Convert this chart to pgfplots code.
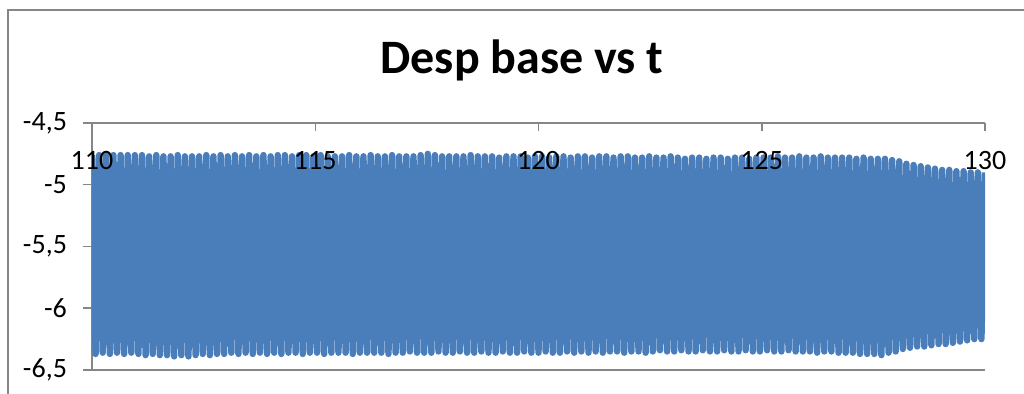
\documentclass[border=0pt]{standalone}
\usepackage{pgfplots}
\pgfplotsset{compat=1.18}
\usepackage{fontspec}
\setmainfont{Carlito}
\definecolor{excelblue}{RGB}{74,126,187}
\definecolor{axgray}{RGB}{134,134,134}
\pgfplotsset{
  commongeom/.style={
    at={(46pt,12pt)}, anchor=south west,
    scale only axis, width=446.5pt, height=123.5pt,
    xmin=110, xmax=130, ymin=-6.5, ymax=-4.5,
    /pgf/number format/assume math mode=true,
  },
}
\begin{document}
\begin{tikzpicture}
\useasboundingbox (0,0) rectangle (512pt,197pt);
\draw[axgray, line width=1pt] (4pt,0) -- (4pt,192pt) -- (512pt,192pt);
\node[anchor=base, inner sep=0pt, font=\fontsize{24}{28}\selectfont\bfseries] at (261pt,160pt) {Desp base vs t};
\begin{axis}[
  commongeom,
  axis x line*=top, axis y line*=left,
  axis line style={axgray, line width=0.75pt, -},
  xtick=\empty,
  ytick={-6.5,-6,-5.5,-5,-4.5},
  tick align=outside, major tick length=4.5pt,
  tick style={axgray, line width=0.75pt},
  ymajorgrids, grid style={axgray, line width=0.75pt},
  yticklabel style={font=\fontsize{14}{16}\selectfont, xshift=-4.5pt, /pgf/number format/.cd, use comma, fixed},
]
\addplot[excelblue, line width=3.2pt, line join=round] coordinates {
(110,-4.76) (110.08,-6.37) (110.16,-4.76) (110.24,-6.36) (110.32,-4.75) (110.4,-6.37) (110.48,-4.76) (110.56,-6.36) (110.64,-4.76) (110.72,-6.37)
(110.8,-4.76) (110.88,-6.36) (110.96,-4.76) (111.04,-6.37) (111.12,-4.76) (111.2,-6.38) (111.28,-4.77) (111.36,-6.37) (111.44,-4.76) (111.52,-6.38)
(111.6,-4.77) (111.68,-6.38) (111.76,-4.77) (111.84,-6.39) (111.92,-4.76) (112,-6.38) (112.08,-4.77) (112.16,-6.39) (112.24,-4.77) (112.32,-6.38)
(112.4,-4.77) (112.48,-6.37) (112.56,-4.76) (112.64,-6.38) (112.72,-4.77) (112.8,-6.37) (112.88,-4.76) (112.96,-6.37) (113.04,-4.77) (113.12,-6.36)
(113.2,-4.76) (113.28,-6.37) (113.36,-4.77) (113.44,-6.36) (113.52,-4.76) (113.6,-6.37) (113.68,-4.77) (113.76,-6.36) (113.84,-4.76) (113.92,-6.37)
(114,-4.77) (114.08,-6.36) (114.16,-4.76) (114.24,-6.37) (114.32,-4.76) (114.4,-6.36) (114.48,-4.77) (114.56,-6.36) (114.64,-4.76) (114.72,-6.37)
(114.8,-4.76) (114.88,-6.36) (114.96,-4.77) (115.04,-6.36) (115.12,-4.76) (115.2,-6.37) (115.28,-4.77) (115.36,-6.36) (115.44,-4.77) (115.52,-6.36)
(115.6,-4.77) (115.68,-6.36) (115.76,-4.76) (115.84,-6.37) (115.92,-4.77) (116,-6.36) (116.08,-4.77) (116.16,-6.36) (116.24,-4.76) (116.32,-6.36)
(116.4,-4.77) (116.48,-6.36) (116.56,-4.77) (116.64,-6.37) (116.72,-4.76) (116.8,-6.36) (116.88,-4.77) (116.96,-6.36) (117.04,-4.77) (117.12,-6.35)
(117.2,-4.77) (117.28,-6.36) (117.36,-4.76) (117.44,-6.36) (117.52,-4.75) (117.6,-6.36) (117.68,-4.76) (117.76,-6.35) (117.84,-4.77) (117.92,-6.36)
(118,-4.77) (118.08,-6.36) (118.16,-4.77) (118.24,-6.35) (118.32,-4.77) (118.4,-6.36) (118.48,-4.76) (118.56,-6.36) (118.64,-4.77) (118.72,-6.35)
(118.8,-4.77) (118.88,-6.36) (118.96,-4.77) (119.04,-6.36) (119.12,-4.78) (119.2,-6.35) (119.28,-4.77) (119.36,-6.36) (119.44,-4.77) (119.52,-6.36)
(119.6,-4.77) (119.68,-6.35) (119.76,-4.78) (119.84,-6.36) (119.92,-4.77) (120,-6.36) (120.08,-4.77) (120.16,-6.35) (120.24,-4.78) (120.32,-6.36)
(120.4,-4.77) (120.48,-6.36) (120.56,-4.77) (120.64,-6.35) (120.72,-4.78) (120.8,-6.36) (120.88,-4.77) (120.96,-6.35) (121.04,-4.77) (121.12,-6.36)
(121.2,-4.78) (121.28,-6.35) (121.36,-4.77) (121.44,-6.36) (121.52,-4.77) (121.6,-6.35) (121.68,-4.78) (121.76,-6.35) (121.84,-4.77) (121.92,-6.36)
(122,-4.77) (122.08,-6.35) (122.16,-4.78) (122.24,-6.35) (122.32,-4.78) (122.4,-6.36) (122.48,-4.77) (122.56,-6.35) (122.64,-4.78) (122.72,-6.34)
(122.8,-4.78) (122.88,-6.35) (122.96,-4.77) (123.04,-6.35) (123.12,-4.78) (123.2,-6.34) (123.28,-4.79) (123.36,-6.35) (123.44,-4.78) (123.52,-6.35)
(123.6,-4.78) (123.68,-6.34) (123.76,-4.79) (123.84,-6.35) (123.92,-4.78) (124,-6.35) (124.08,-4.78) (124.16,-6.34) (124.24,-4.79) (124.32,-6.35)
(124.4,-4.78) (124.48,-6.35) (124.56,-4.78) (124.64,-6.34) (124.72,-4.79) (124.8,-6.35) (124.88,-4.78) (124.96,-6.35) (125.04,-4.78) (125.12,-6.34)
(125.2,-4.78) (125.28,-6.35) (125.36,-4.77) (125.44,-6.35) (125.52,-4.78) (125.6,-6.34) (125.68,-4.78) (125.76,-6.35) (125.84,-4.77) (125.92,-6.35)
(126,-4.78) (126.08,-6.35) (126.16,-4.78) (126.24,-6.36) (126.32,-4.77) (126.4,-6.35) (126.48,-4.78) (126.56,-6.35) (126.64,-4.78) (126.72,-6.36)
(126.8,-4.78) (126.88,-6.36) (126.96,-4.78) (127.04,-6.36) (127.12,-4.79) (127.2,-6.37) (127.28,-4.78) (127.36,-6.37) (127.44,-4.79) (127.52,-6.37)
(127.6,-4.79) (127.68,-6.38) (127.76,-4.79) (127.84,-6.36) (127.92,-4.80) (128,-6.35) (128.08,-4.81) (128.16,-6.33) (128.24,-4.83) (128.32,-6.32)
(128.4,-4.84) (128.48,-6.31) (128.56,-4.85) (128.64,-6.31) (128.72,-4.86) (128.8,-6.30) (128.88,-4.87) (128.96,-6.29) (129.04,-4.88) (129.12,-6.29)
(129.2,-4.88) (129.28,-6.28) (129.36,-4.89) (129.44,-6.27) (129.52,-4.89) (129.6,-6.26) (129.68,-4.90) (129.76,-6.25) (129.84,-4.90) (129.92,-6.25)
(130,-4.90)
};
\end{axis}
\begin{axis}[
  commongeom,
  axis x line*=top, hide y axis,
  axis line style={axgray, line width=0.75pt, -},
  xtick={110,115,120,125,130},
  ytick=\empty,
  xtick style={draw=none},
  clip=false,
  xticklabel style={font=\fontsize{14}{16}\selectfont, anchor=north, yshift=-10.5pt},
]
\draw[axgray, line width=0.75pt] (axis cs:110,-4.5) -- ++(0pt,-4pt);
\draw[axgray, line width=0.75pt] (axis cs:115,-4.5) -- ++(0pt,-4pt);
\draw[axgray, line width=0.75pt] (axis cs:120,-4.5) -- ++(0pt,-4pt);
\draw[axgray, line width=0.75pt] (axis cs:125,-4.5) -- ++(0pt,-4pt);
\draw[axgray, line width=0.75pt] (axis cs:130,-4.5) -- ++(0pt,-4pt);
\end{axis}
\end{tikzpicture}
\end{document}
